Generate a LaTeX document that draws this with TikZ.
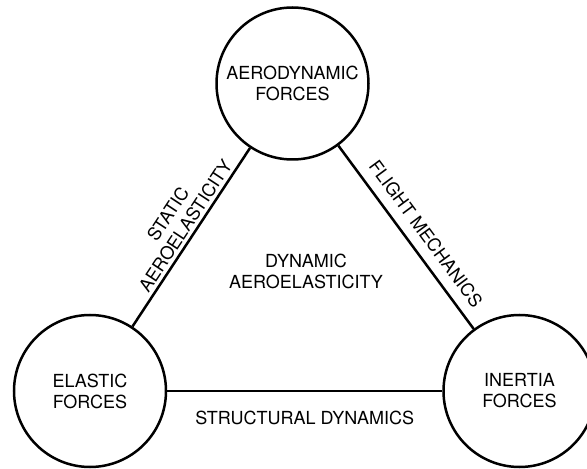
\documentclass[tikz,border=0pt]{standalone}
\usepackage{fontspec}
\setmainfont{TeX Gyre Heros}
\usetikzlibrary{
  positioning,  % Function "of" (e.g. [right=of x])
}
\def\mydiam{152pt}
\tikzset{
  x=1pt,
  y=1pt,
  font=\fontsize{18}{21}\selectfont,
  force/.style={
    draw,
    circle,
    minimum size=\mydiam,
    inner sep=0mm,
    align=center
  },
  my label/.style={
    inner sep=0mm,
    align=center
  }
}

\begin{document}
\begin{tikzpicture}[line width=2.5pt]
\useasboundingbox (0,0) rectangle (587,469);
\node[force] (elastic) at (90,78)       {ELASTIC\\FORCES};
\node[force] (inertia) at (519.5,78)    {INERTIA\\FORCES};
\node[force] (aero)    at (292.5,385.5) {AERODYNAMIC\\FORCES};
\path (elastic) edge node[my label,sloped,above=3pt,pos=0.53] (static) {STATIC\\AEROELASTICITY} (aero)
      (aero)    edge node[my label,sloped,above=10pt,pos=0.54] (flight) {FLIGHT MECHANICS} (inertia)
      (elastic) edge node[my label,below=19pt] (structural) {STRUCTURAL DYNAMICS} (inertia);
\node[my label] (dynamic) at (306,197.5) {DYNAMIC\\AEROELASTICITY};
\end{tikzpicture}
\end{document}
